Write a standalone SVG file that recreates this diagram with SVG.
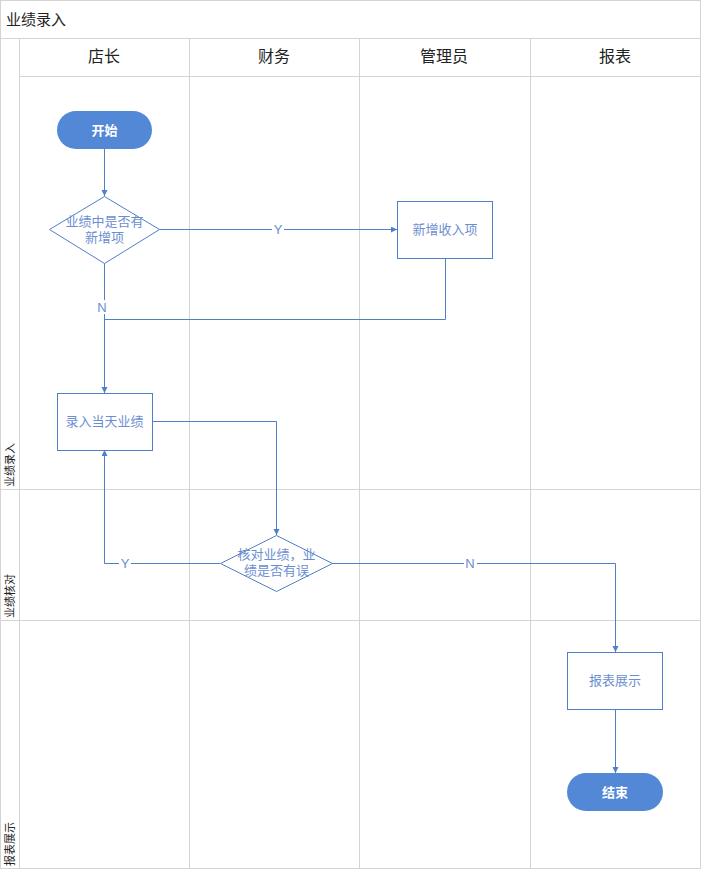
<svg xmlns="http://www.w3.org/2000/svg" width="701" height="869" viewBox="0 0 701 869">
<defs>
<style>
.grid{stroke:#d4d4d4;stroke-width:1;fill:none}
.hdr{font-family:"Noto Sans CJK SC","Liberation Sans",sans-serif;font-size:16px;fill:#222;text-anchor:middle}
.lane{font-family:"Noto Sans CJK SC","Liberation Sans",sans-serif;font-size:11px;fill:#222;text-anchor:start}
.shape{fill:#fff;stroke:#4f7fc6;stroke-width:1}
.pill{fill:#5288d6;stroke:none}
.t{font-family:"Noto Sans CJK SC","Liberation Sans",sans-serif;font-size:13px;fill:#6b8ed0;text-anchor:middle}
.tw{font-family:"Noto Sans CJK SC","Liberation Sans",sans-serif;font-size:13px;fill:#fff;font-weight:bold;text-anchor:middle}
.c{stroke:#4f7fc6;stroke-width:1;fill:none}
.lbl{font-family:"Liberation Sans",sans-serif;font-size:13px;fill:#6b8ed0;text-anchor:middle}
</style>
<marker id="arr" markerWidth="8" markerHeight="8" refX="6" refY="3" orient="auto" markerUnits="userSpaceOnUse">
<path d="M0,0 L6,3 L0,6 Z" fill="#4f7fc6"/>
</marker>
</defs>
<rect x="0" y="0" width="701" height="869" fill="#fff"/>
<g id="pool">
<rect class="grid" x="0.5" y="0.5" width="700" height="868"/>
<line class="grid" x1="0.5" y1="38.5" x2="700.5" y2="38.5"/>
<line class="grid" x1="19.5" y1="76.5" x2="700.5" y2="76.5"/>
<line class="grid" x1="19.5" y1="38.5" x2="19.5" y2="868.5"/>
<line class="grid" x1="189.5" y1="38.5" x2="189.5" y2="868.5"/>
<line class="grid" x1="359.5" y1="38.5" x2="359.5" y2="868.5"/>
<line class="grid" x1="530.5" y1="38.5" x2="530.5" y2="868.5"/>
<line class="grid" x1="0.5" y1="489.5" x2="700.5" y2="489.5"/>
<line class="grid" x1="0.5" y1="620.5" x2="700.5" y2="620.5"/>
<text x="6" y="25" font-family="Noto Sans CJK SC, Liberation Sans, sans-serif" font-size="15" fill="#222">业绩录入</text>
<text class="hdr" x="104" y="62">店长</text>
<text class="hdr" x="274" y="62">财务</text>
<text class="hdr" x="444" y="62">管理员</text>
<text class="hdr" x="615" y="62">报表</text>
<text class="lane" transform="translate(14,487) rotate(-90)">业绩录入</text>
<text class="lane" transform="translate(14,618) rotate(-90)">业绩核对</text>
<text class="lane" transform="translate(14,866) rotate(-90)">报表展示</text>
</g>
<g id="connectors">
<line class="c" x1="104.5" y1="149" x2="104.5" y2="196" marker-end="url(#arr)"/>
<line class="c" x1="159" y1="229.5" x2="397" y2="229.5" marker-end="url(#arr)"/>
<rect x="272" y="222" width="12" height="14" fill="#fff"/>
<text class="lbl" x="278" y="234">Y</text>
<polyline class="c" points="445.5,258 445.5,319.5 104.5,319.5"/>
<line class="c" x1="104.5" y1="263" x2="104.5" y2="393" marker-end="url(#arr)"/>
<rect x="96" y="300" width="13" height="14" fill="#fff"/>
<text class="lbl" x="102" y="312">N</text>
<polyline class="c" points="152,421.5 276.5,421.5 276.5,535" marker-end="url(#arr)"/>
<polyline class="c" points="220,563.5 104.5,563.5 104.5,450" marker-end="url(#arr)"/>
<rect x="119" y="556" width="12" height="14" fill="#fff"/>
<text class="lbl" x="125" y="568">Y</text>
<polyline class="c" points="332,563.5 615.5,563.5 615.5,652" marker-end="url(#arr)"/>
<rect x="464" y="556" width="13" height="14" fill="#fff"/>
<text class="lbl" x="470" y="568">N</text>
<line class="c" x1="615.5" y1="709" x2="615.5" y2="773" marker-end="url(#arr)"/>
</g>
<g id="start">
<rect class="pill" x="57" y="111" width="95" height="38" rx="19"/>
<text class="tw" x="104.5" y="135">开始</text>
</g>
<g id="decision1">
<polygon class="shape" points="104.5,196.5 159.5,229.5 104.5,263.5 49.5,229.5"/>
<text class="t" x="104.5" y="226">业绩中是否有</text>
<text class="t" x="104.5" y="242">新增项</text>
</g>
<g id="addIncome">
<rect class="shape" x="397.5" y="201.5" width="95" height="57"/>
<text class="t" x="445" y="234">新增收入项</text>
</g>
<g id="enterToday">
<rect class="shape" x="57.5" y="393.5" width="95" height="57"/>
<text class="t" x="104.5" y="426">录入当天业绩</text>
</g>
<g id="decision2">
<polygon class="shape" points="276.5,535.5 332.5,563.5 276.5,591.5 220.5,563.5"/>
<text class="t" x="276.5" y="559">核对业绩，业</text>
<text class="t" x="276.5" y="575">绩是否有误</text>
</g>
<g id="report">
<rect class="shape" x="567.5" y="652.5" width="95" height="57"/>
<text class="t" x="615" y="685">报表展示</text>
</g>
<g id="end">
<rect class="pill" x="567" y="773" width="96" height="38" rx="19"/>
<text class="tw" x="615" y="797">结束</text>
</g>
</svg>
